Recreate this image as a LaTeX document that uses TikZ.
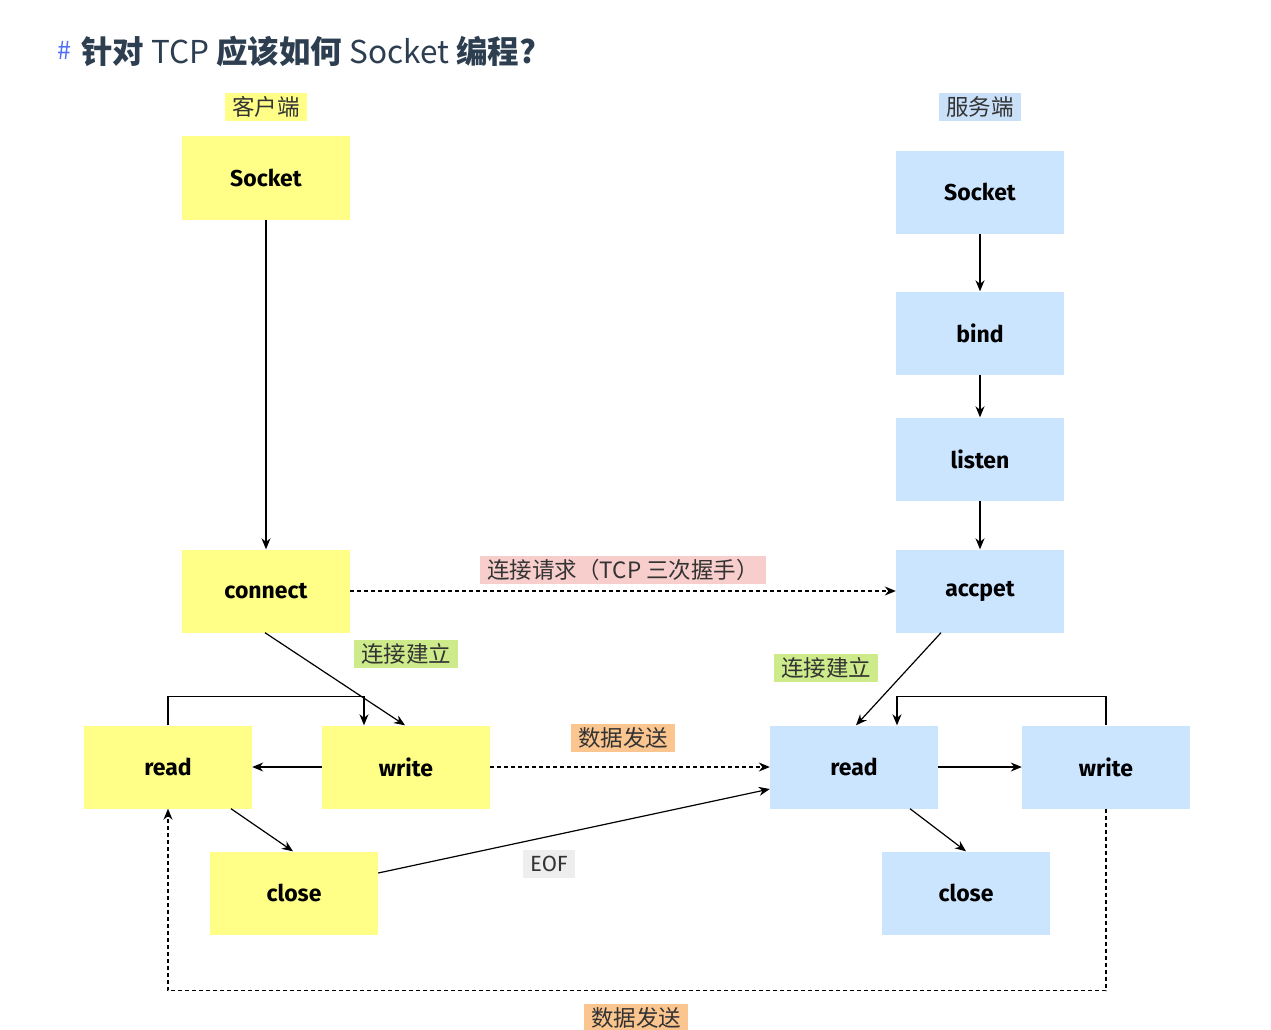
\documentclass[tikz,border=0pt]{standalone}
\usepackage{fontspec}
\setmainfont{Fira Sans}
\newfontfamily\cjk{Noto Sans CJK SC}
\usetikzlibrary{arrows.meta}
\definecolor{cliyel}{HTML}{FFFF88}
\definecolor{srvblue}{HTML}{CCE5FF}
\definecolor{tagblue}{HTML}{C9E0F8}
\definecolor{tagpink}{HTML}{F8CECC}
\definecolor{taggreen}{HTML}{CDEB8B}
\definecolor{tagorange}{HTML}{FAC58E}
\definecolor{taggray}{HTML}{EEEEEE}
\definecolor{titlecol}{HTML}{2C3E50}
\definecolor{hashcol}{HTML}{4F6EF7}
\tikzset{
  box/.style={minimum width=168pt, minimum height=83pt, inner sep=0pt,
    font=\fontsize{23}{26}\selectfont\bfseries},
  clibox/.style={box, fill=cliyel},
  srvbox/.style={box, fill=srvblue},
  tag/.style={inner xsep=7pt, inner ysep=2pt, minimum height=28pt,
    font=\cjk\fontsize{22.5}{26}\selectfont, text=black!80},
  conn/.style={line width=1.2pt, -{Stealth[length=11pt,width=9pt]}},
  dconn/.style={conn, dash pattern=on 4pt off 3pt},
}
\begin{document}
\begin{tikzpicture}[x=1pt,y=-1pt]
\useasboundingbox (0,0) rectangle (1271,1030);
\fill[white] (0,0) rectangle (1271,1030);

% heading
\node[anchor=west, inner sep=0pt, text=hashcol, font=\cjk\fontsize{25}{28}\selectfont] (hash) at (57,50) {\#};
\node[anchor=west, inner sep=0pt, text=titlecol, font=\cjk\fontsize{31.5}{36}\selectfont] (title) at (81,51)
  {{\bfseries 针对} TCP {\bfseries 应该如何} Socket {\bfseries 编程?}};

% side captions
\node[tag, fill=cliyel] (clitag) at (266,107) {客户端};
\node[tag, fill=tagblue] (srvtag) at (980,107) {服务端};

% client side
\node[clibox] (csock) at (266,178) {Socket};
\node[clibox] (conn) at (266,591) {connect};
\node[clibox] (cread) at (168,767) {read};
\node[clibox] (cwrite) at (406,767) {write};
\node[clibox] (cclose) at (294,893) {close};

% server side
\node[srvbox] (ssock) at (980,192) {Socket};
\node[srvbox] (bind) at (980,333) {bind};
\node[srvbox] (listen) at (980,459) {listen};
\node[srvbox] (accept) at (980,591) {accpet};
\node[srvbox] (sread) at (854,767) {read};
\node[srvbox] (swrite) at (1106,767) {write};
\node[srvbox] (sclose) at (966,893) {close};

% connector labels
\node[tag, fill=tagpink] (reqtag) at (623,570) {连接请求（TCP 三次握手）};
\node[tag, fill=taggreen] (esttagc) at (406,654) {连接建立};
\node[tag, fill=taggreen] (esttags) at (826,668) {连接建立};
\node[tag, fill=tagorange] (datatag) at (623,738) {数据发送};
\node[tag, fill=taggray, font=\fontsize{22}{25}\selectfont] (eoftag) at (549,864) {EOF};
\node[tag, fill=tagorange] (datatag2) at (636,1018) {数据发送};

% client flow
\draw[conn] (csock.south) -- (conn.north);
\draw[conn] ([xshift=-1pt]conn.south) -- ([xshift=-1pt]cwrite.north);
\draw[conn] (cread.north) -- ++(0,-29) -| ([xshift=-42pt]cwrite.north);
\draw[conn] (cwrite.west) -- (cread.east);
\draw[conn] ([xshift=63pt]cread.south) -- ([xshift=-1pt]cclose.north);

% server flow
\draw[conn] (ssock.south) -- (bind.north);
\draw[conn] (bind.south) -- (listen.north);
\draw[conn] (listen.south) -- (accept.north);
\draw[conn] ([xshift=-39pt]accept.south) -- ([xshift=2pt]sread.north);
\draw[conn] (swrite.north) -- ++(0,-29) -| ([xshift=43pt]sread.north);
\draw[conn] (sread.east) -- (swrite.west);
\draw[conn] ([xshift=56pt]sread.south) -- (sclose.north);

% between the two sides
\draw[dconn] (conn.east) -- (accept.west);
\draw[dconn] (cwrite.east) -- (sread.west);
\draw[conn] ([yshift=20pt]cclose.east) -- ([yshift=-22pt]sread.west);
\draw[dconn] (swrite.south) -- ++(0,182) -| (cread.south);
\end{tikzpicture}
\end{document}
